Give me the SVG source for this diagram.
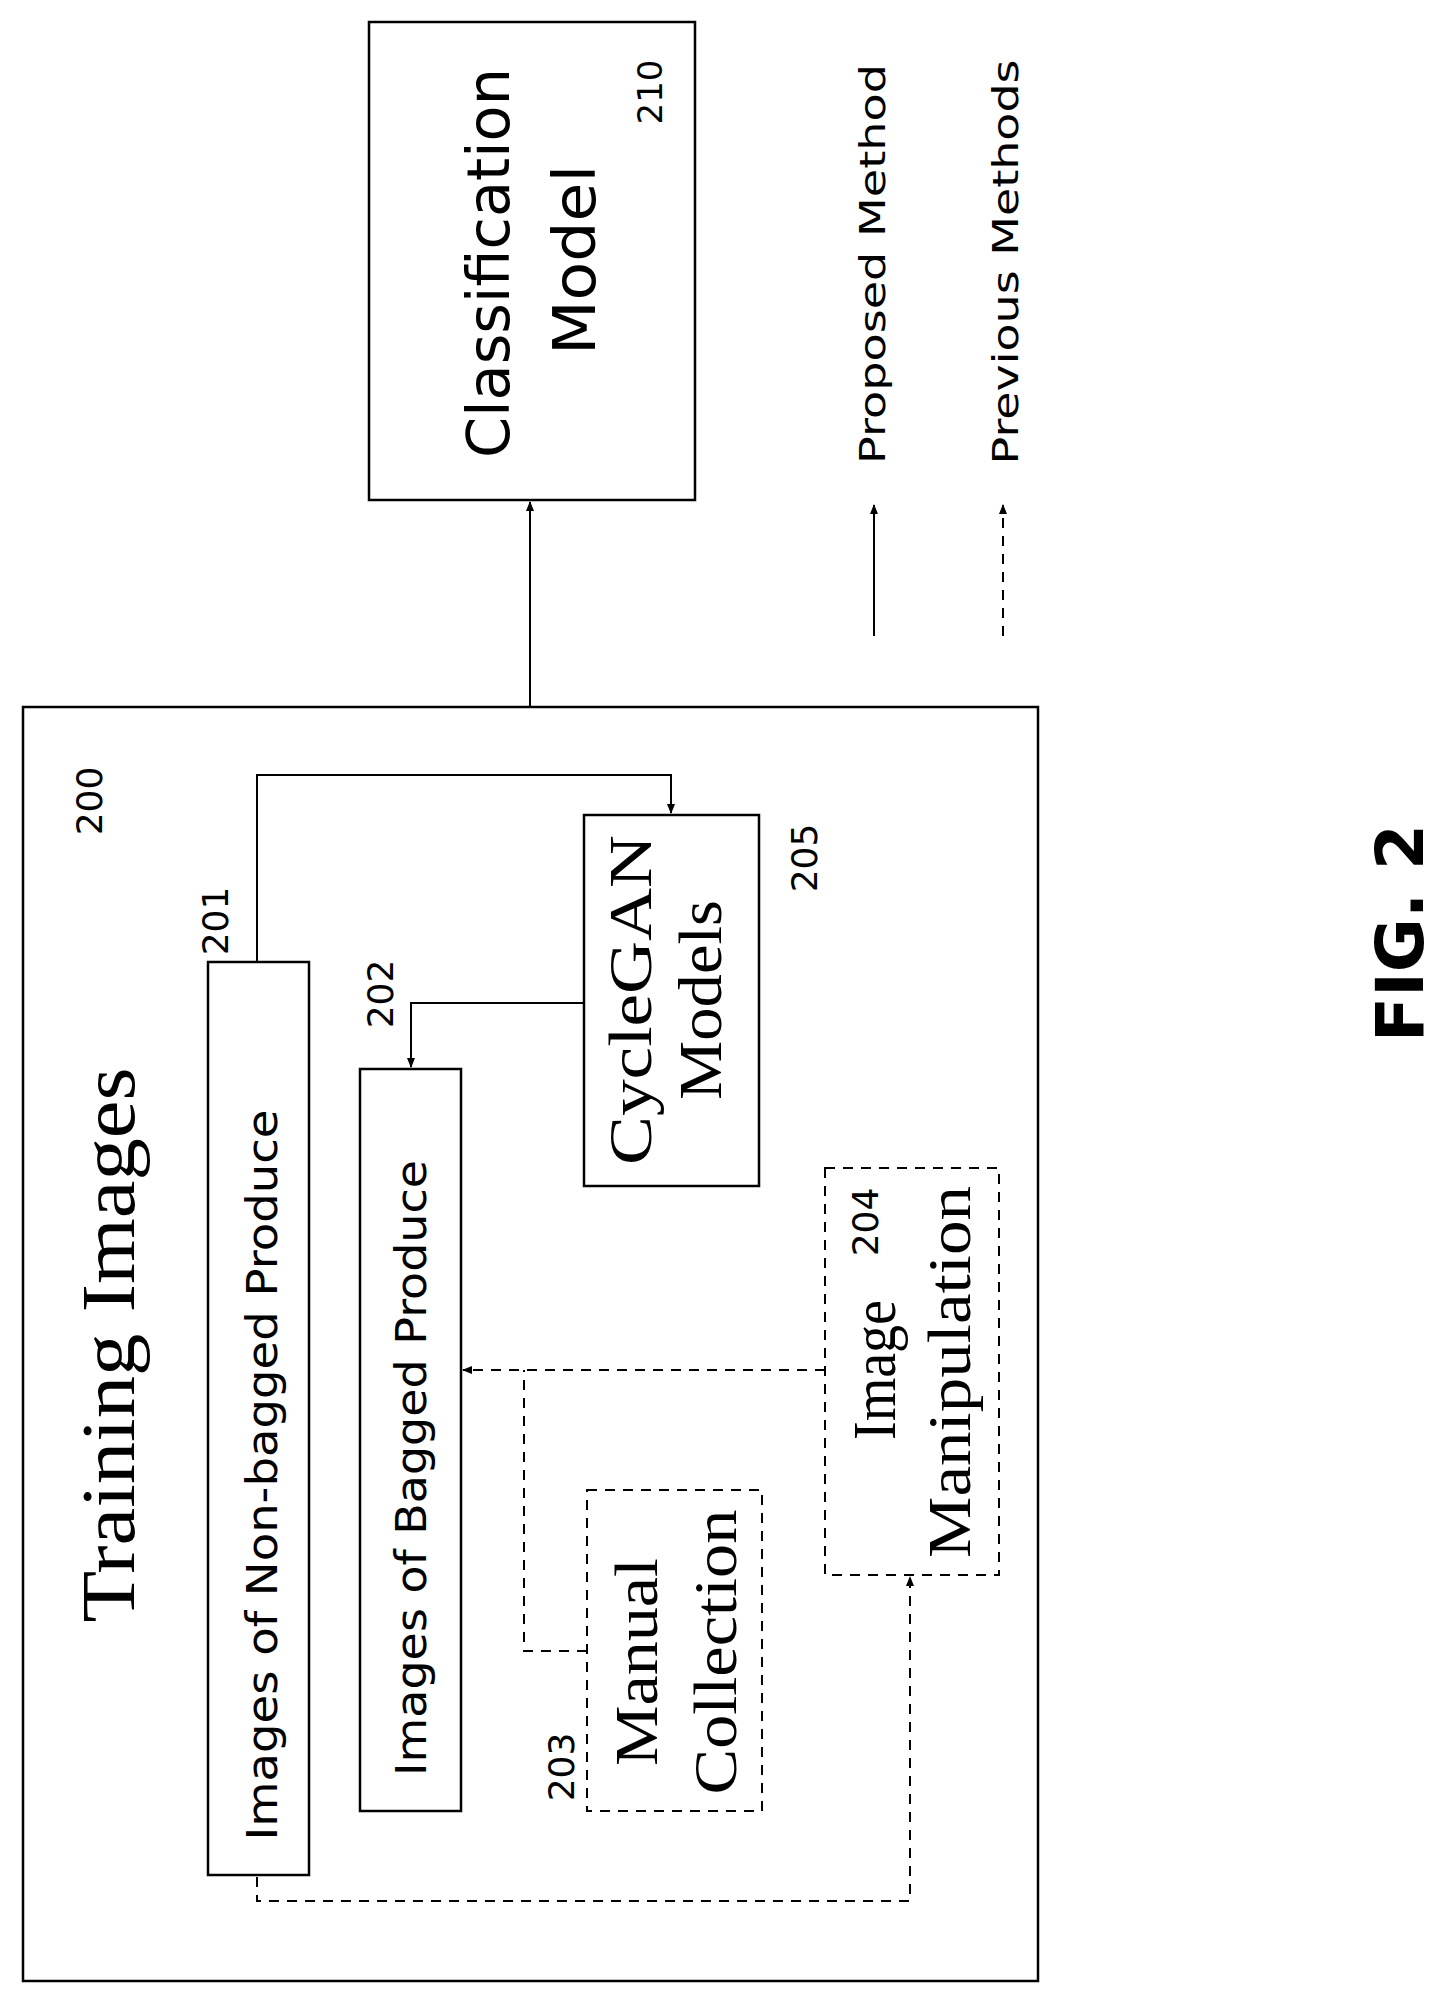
<svg xmlns="http://www.w3.org/2000/svg" width="1449" height="2010" viewBox="0 0 1449 2010">
<style>
.box{fill:none;stroke:#000;stroke-width:2.5}
.dbox{fill:none;stroke:#000;stroke-width:2;stroke-dasharray:10,8}
.ln{fill:none;stroke:#000;stroke-width:2}
.dl{fill:none;stroke:#000;stroke-width:2;stroke-dasharray:10,8}
.s{font-family:"DejaVu Sans","Liberation Sans",sans-serif;text-anchor:middle;dominant-baseline:central}
.r{font-family:"Liberation Serif","DejaVu Serif",serif;text-anchor:middle;dominant-baseline:central}
</style>
<defs>
<marker id="ah" markerWidth="10" markerHeight="10" refX="9" refY="5" orient="auto" markerUnits="userSpaceOnUse"><path d="M0,1 L10,5 L0,9 Z" fill="#000"/></marker>
</defs>
<rect width="1449" height="2010" fill="#fff"/>
<g id="connectors">
<path class="ln" d="M530,707 V502" marker-end="url(#ah)"/>
<path class="ln" d="M257,962 V775 H671 V813" marker-end="url(#ah)"/>
<path class="ln" d="M584,1003 H411 V1067" marker-end="url(#ah)"/>
<path class="dl" d="M825,1370 H463" marker-end="url(#ah)"/>
<path class="dl" d="M587,1651 H524 V1370"/>
<path class="dl" d="M257,1877 V1901 H910 V1577" marker-end="url(#ah)"/>
<path class="ln" d="M874,636 V505" marker-end="url(#ah)"/>
<path class="dl" d="M1003,636 V505" marker-end="url(#ah)"/>
</g>
<g id="n210">
<rect class="box" x="369" y="22" width="326" height="478"/>
<text class="s" font-size="58" transform="translate(489,263) rotate(-90)" textLength="390" lengthAdjust="spacingAndGlyphs">Classification</text>
<text class="s" font-size="58" transform="translate(575,260) rotate(-90)" textLength="190" lengthAdjust="spacingAndGlyphs">Model</text>
<text class="s" font-size="34" transform="translate(650,92) rotate(-90)">210</text>
</g>
<g id="legend">
<text class="s" font-size="36" transform="translate(872,264) rotate(-90)" textLength="400" lengthAdjust="spacingAndGlyphs">Proposed Method</text>
<text class="s" font-size="36" transform="translate(1005,262) rotate(-90)" textLength="405" lengthAdjust="spacingAndGlyphs">Previous Methods</text>
</g>
<g id="n200">
<rect class="box" x="23" y="707" width="1015" height="1274"/>
<text class="s" font-size="36" transform="translate(89,801) rotate(-90)">200</text>
<text class="r" font-size="76" transform="translate(108,1345) rotate(-90)" textLength="555" lengthAdjust="spacingAndGlyphs">Training Images</text>
</g>
<g id="n201">
<rect class="box" x="208" y="962" width="101" height="913"/>
<text class="s" font-size="42" transform="translate(262,1475) rotate(-90)" textLength="731" lengthAdjust="spacingAndGlyphs">Images of Non-bagged Produce</text>
<text class="s" font-size="36" transform="translate(215,921) rotate(-90)">201</text>
</g>
<g id="n202">
<rect class="box" x="360" y="1069" width="101" height="742"/>
<text class="s" font-size="42" transform="translate(411,1468) rotate(-90)" textLength="616" lengthAdjust="spacingAndGlyphs">Images of Bagged Produce</text>
<text class="s" font-size="36" transform="translate(380,994) rotate(-90)">202</text>
</g>
<g id="n205">
<rect class="box" x="584" y="815" width="175" height="371"/>
<text class="r" font-size="62" transform="translate(630,1000) rotate(-90)" textLength="330" lengthAdjust="spacingAndGlyphs">CycleGAN</text>
<text class="r" font-size="62" transform="translate(700,1000) rotate(-90)" textLength="200" lengthAdjust="spacingAndGlyphs">Models</text>
<text class="s" font-size="36" transform="translate(804,858) rotate(-90)">205</text>
</g>
<g id="n203">
<rect class="dbox" x="587" y="1490" width="175" height="321"/>
<text class="r" font-size="62" transform="translate(636,1662) rotate(-90)" textLength="208" lengthAdjust="spacingAndGlyphs">Manual</text>
<text class="r" font-size="62" transform="translate(715,1652) rotate(-90)" textLength="285" lengthAdjust="spacingAndGlyphs">Collection</text>
<text class="s" font-size="36" transform="translate(561,1767) rotate(-90)">203</text>
</g>
<g id="n204">
<rect class="dbox" x="825" y="1168" width="174" height="407"/>
<text class="r" font-size="62" transform="translate(874,1370) rotate(-90)" textLength="140" lengthAdjust="spacingAndGlyphs">Image</text>
<text class="s" font-size="36" transform="translate(865,1222) rotate(-90)">204</text>
<text class="r" font-size="62" transform="translate(949,1372) rotate(-90)" textLength="372" lengthAdjust="spacingAndGlyphs">Manipulation</text>
</g>
<text class="s" font-size="66" font-weight="bold" transform="translate(1400,933) rotate(-90)">FIG. 2</text>
</svg>
